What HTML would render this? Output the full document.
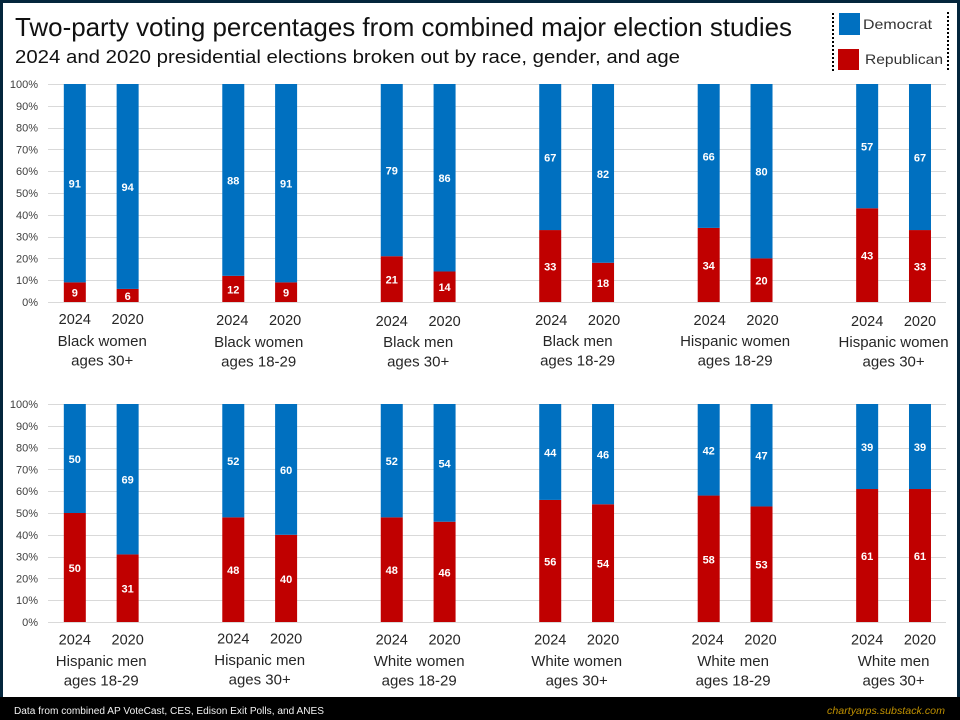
<!DOCTYPE html>
<html lang="en">
<head>
<meta charset="utf-8">
<title>Two-party voting percentages</title>
<style>
html,body{margin:0;padding:0;background:#fff;width:960px;height:720px;overflow:hidden}
svg{display:block;font-family:"Liberation Sans",sans-serif}
</style>
</head>
<body>
<svg id="chart" xmlns="http://www.w3.org/2000/svg" width="960" height="720" viewBox="0 0 960 720">
  <rect x="0" y="0" width="960" height="720" fill="#ffffff"/>
  <rect x="0" y="0" width="960" height="3" fill="#04263c"/>
  <rect x="0" y="0" width="3" height="720" fill="#04263c"/>
  <rect x="957" y="0" width="3" height="720" fill="#04263c"/>
  <rect x="0" y="697" width="960" height="23" fill="#000000"/>
  <text x="15" y="36" font-size="26" fill="#111111" textLength="777" lengthAdjust="spacingAndGlyphs">Two-party voting percentages from combined major election studies</text>
  <text x="15" y="63" font-size="18.5" fill="#111111" textLength="665" lengthAdjust="spacingAndGlyphs">2024 and 2020 presidential elections broken out by race, gender, and age</text>
  <g>
    <line x1="833" y1="13" x2="833" y2="71" stroke="#000" stroke-width="2" stroke-dasharray="2 2"/>
    <line x1="948" y1="12" x2="948" y2="70" stroke="#000" stroke-width="2" stroke-dasharray="2 2"/>
    <rect x="839" y="13" width="21" height="22" fill="#0070c0"/>
    <text x="863" y="29" font-size="14" fill="#333333" textLength="69" lengthAdjust="spacingAndGlyphs">Democrat</text>
    <rect x="838" y="49" width="21" height="21" fill="#c00000"/>
    <text x="865" y="64" font-size="14" fill="#333333" textLength="78" lengthAdjust="spacingAndGlyphs">Republican</text>
  </g>
  <g id="panels"></g>
  <text x="14" y="714" font-size="10" fill="#f2f2f2" textLength="310" lengthAdjust="spacingAndGlyphs">Data from combined AP VoteCast, CES, Edison Exit Polls, and ANES</text>
  <text x="945" y="714" font-size="10.5" font-style="italic" fill="#bf9000" text-anchor="end" textLength="118" lengthAdjust="spacingAndGlyphs">chartyarps.substack.com</text>
</svg>
<script>
const years = ['2024', '2020'];
const yTicks = [0, 10, 20, 30, 40, 50, 60, 70, 80, 90, 100];
const topGroups = [['Black women', 'ages 30+'], ['Black women', 'ages 18-29'], ['Black men', 'ages 30+'], ['Black men', 'ages 18-29'], ['Hispanic women', 'ages 18-29'], ['Hispanic women', 'ages 30+']];
const topDemocrat = [91, 94, 88, 91, 79, 86, 67, 82, 66, 80, 57, 67];
const topRepublican = [9, 6, 12, 9, 21, 14, 33, 18, 34, 20, 43, 33];
const bottomGroups = [['Hispanic men', 'ages 18-29'], ['Hispanic men', 'ages 30+'], ['White women', 'ages 18-29'], ['White women', 'ages 30+'], ['White men', 'ages 18-29'], ['White men', 'ages 30+']];
const bottomDemocrat = [50, 69, 52, 60, 52, 54, 44, 46, 42, 47, 39, 39];
const bottomRepublican = [50, 31, 48, 40, 48, 46, 56, 54, 58, 53, 61, 61];

const NS = 'http://www.w3.org/2000/svg';
const plotLeft = 48.4, plotRight = 946.4, slots = 17, barWidth = 22;
const slotWidth = (plotRight - plotLeft) / slots;
const plotHeight = 218;
function slotCenter(i) { return plotLeft + slotWidth * (i + 0.5); }
function make(tag, attrs, parent, txt) {
  const el = document.createElementNS(NS, tag);
  for (const k in attrs) el.setAttribute(k, attrs[k]);
  if (txt !== undefined) el.textContent = txt;
  parent.appendChild(el);
  return el;
}
function drawPanel(root, key, top, groups, dem, rep, yearBase, nameBase, yearNudge, nameNudge) {
  const yScale = v => top + plotHeight * (1 - v / 100);
  const g = make('g', {}, root);
  
  
  yTicks.forEach(t => {
    const gy = Math.round(yScale(t)) + 0.5;
    const grid = make('line', {x1: 48, x2: 946, y1: gy, y2: gy, stroke: '#d9d9d9', 'stroke-width': 1}, g);
    
    
    const lab = make('text', {x: 38, y: yScale(t) + 4, 'font-size': 11, fill: '#404040', 'text-anchor': 'end'}, g, t + '%');
    
    
  });
  dem.forEach((d, i) => {
    const groupIndex = Math.floor(i / 2);
    const cx = slotCenter(groupIndex * 3 + i % 2);
    const r = rep[i];
    const x = cx - barWidth / 2;
    const redBar = make('rect', {x: x, y: yScale(r), width: barWidth, height: yScale(0) - yScale(r), fill: '#c00000'}, g);
    
    
    const blueBar = make('rect', {x: x, y: yScale(r + d), width: barWidth, height: yScale(r) - yScale(r + d), fill: '#0070c0'}, g);
    
    
    const redLabel = make('text', {x: cx, y: yScale(r / 2) + 4.5, 'font-size': 11, 'font-weight': 'bold', fill: '#ffffff', 'text-anchor': 'middle'}, g, r);
    
    
    const blueLabel = make('text', {x: cx, y: yScale(r + d / 2) + 4.5, 'font-size': 11, 'font-weight': 'bold', fill: '#ffffff', 'text-anchor': 'middle'}, g, d);
    
    
    const yearLabel = make('text', {x: cx + yearNudge[groupIndex][0], y: yearBase + yearNudge[groupIndex][1], 'font-size': 14.5, fill: '#262626', 'text-anchor': 'middle'}, g, years[i % 2]);
    
    
  });
  groups.forEach((lines, gi) => {
    const mid = (slotCenter(gi * 3) + slotCenter(gi * 3 + 1)) / 2;
    lines.forEach((line, li) => {
      const t = make('text', {x: mid + nameNudge[gi][0], y: nameBase + nameNudge[gi][1] + li * 19.5, 'font-size': 15, fill: '#262626', 'text-anchor': 'middle'}, g, line);
      
      
    });
  });
}
const panelsRoot = document.getElementById('panels');
drawPanel(panelsRoot, 'top', 84, topGroups, topDemocrat, topRepublican, 324, 346,
  [[0, 0], [-1, 1], [0, 2], [1, 1], [1, 1], [0, 2]],
  [[1, 0], [-1, 1], [0, 1], [1, 0], [0, 0], [0, 1]]);
drawPanel(panelsRoot, 'bottom', 404, bottomGroups, bottomDemocrat, bottomRepublican, 644.5, 666,
  [[0, 0], [0, -1], [0, 0], [0, 0], [-1, 0], [0, 0]],
  [[0, 0], [0, -1], [1, 0], [0, 0], [-2, 0], [0, 0]]);
</script>
</body>
</html>
